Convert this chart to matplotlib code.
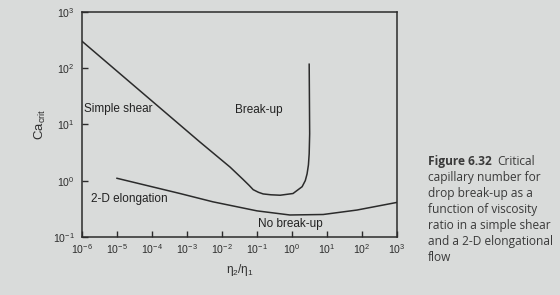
import numpy as np
import matplotlib as mpl
import matplotlib.pyplot as plt
from matplotlib.ticker import NullLocator

mpl.rcParams['font.family'] = ['Liberation Sans', 'DejaVu Sans']
mpl.rcParams['mathtext.fontset'] = 'custom'
mpl.rcParams['mathtext.rm'] = 'Liberation Sans'
mpl.rcParams['mathtext.it'] = 'Liberation Sans'

# DATA
shear_ratio = [1e-6, 2.3e-3, 1.7e-2, 4.0e-2, 6.0e-2, 7.8e-2, 0.11, 0.15, 0.25,
               0.46, 1.07, 1.95, 2.4, 2.7, 2.95, 3.1, 3.2, 3.1]
shear_ca = [300, 4.9, 1.74, 1.05, 0.82, 0.69, 0.62, 0.58, 0.56,
            0.55, 0.59, 0.78, 1.0, 1.32, 1.9, 3.0, 6.8, 117]

elong_ratio = [1e-5, 6.3e-4, 5.5e-3, 0.1, 0.87, 7.8, 72, 1000]
elong_ca = [1.10, 0.59, 0.42, 0.29, 0.245, 0.25, 0.30, 0.41]

x_ticks = [1e-6, 1e-5, 1e-4, 1e-3, 1e-2, 1e-1, 1e0, 1e1, 1e2, 1e3]
y_ticks = [1e-1, 1e0, 1e1, 1e2, 1e3]

caption = ["capillary number for",
           "drop break-up as a",
           "function of viscosity",
           "ratio in a simple shear",
           "and a 2-D elongational",
           "flow"]

# PLOT
bg = '#d9dbda'
ink = '#2b2b2b'
fig = plt.figure(figsize=(5.6, 2.95), dpi=100, facecolor=bg)
ax = fig.add_axes([0.1464, 0.197, 0.5625, 0.763], facecolor=bg)

ax.plot(shear_ratio, shear_ca, color=ink, lw=1.1)
ax.plot(elong_ratio, elong_ca, color=ink, lw=1.1)

ax.set_xscale('log')
ax.set_yscale('log')
ax.set_xlim(1e-6, 1e3)
ax.set_ylim(1e-1, 1e3)
ax.set_xticks(x_ticks)
ax.set_yticks(y_ticks)
ax.xaxis.set_minor_locator(NullLocator())
ax.yaxis.set_minor_locator(NullLocator())
ax.tick_params(direction='in', length=4, width=1, color=ink, labelsize=7.6,
               labelcolor='#2e2e2e')
ax.tick_params(axis='x', pad=4)
ax.tick_params(axis='y', pad=5)
for s in ax.spines.values():
    s.set_color(ink)
    s.set_linewidth(1.1)

ax.set_xlabel(r'$\mathregular{\eta_2/\eta_1}$', fontsize=8.5, color='#2e2e2e',
              labelpad=4)
ax.set_ylabel(r'$\mathregular{Ca_{crit}}$', fontsize=9.5, color='#2e2e2e', labelpad=4)

# region labels
tk = dict(fontsize=8.5, color='#222222', va='center')
ax.text(1.15e-6, 10**1.27, 'Simple shear', **tk)
ax.text(2.3e-2, 10**1.25, 'Break-up', **tk)
ax.text(1.8e-6, 10**-0.33, '2-D elongation', **tk)
ax.text(1.1e-1, 10**-0.77, 'No break-up', **tk)

# caption
cap_kw = dict(fontsize=8.6, color='#3a3a3a', family='Open Sans', va='baseline')
t0 = fig.text(428 / 560, 1 - 165 / 295, 'Figure 6.32', fontweight='bold', **cap_kw)
fig.canvas.draw()
bb = t0.get_window_extent()
fig.text((bb.x1 + 5) / 560, 1 - 165 / 295, 'Critical', **cap_kw)
for i, line in enumerate(caption):
    fig.text(428 / 560, 1 - (181 + 16 * i) / 295, line, **cap_kw)

fig.savefig('out.png', dpi=100, facecolor=bg)
